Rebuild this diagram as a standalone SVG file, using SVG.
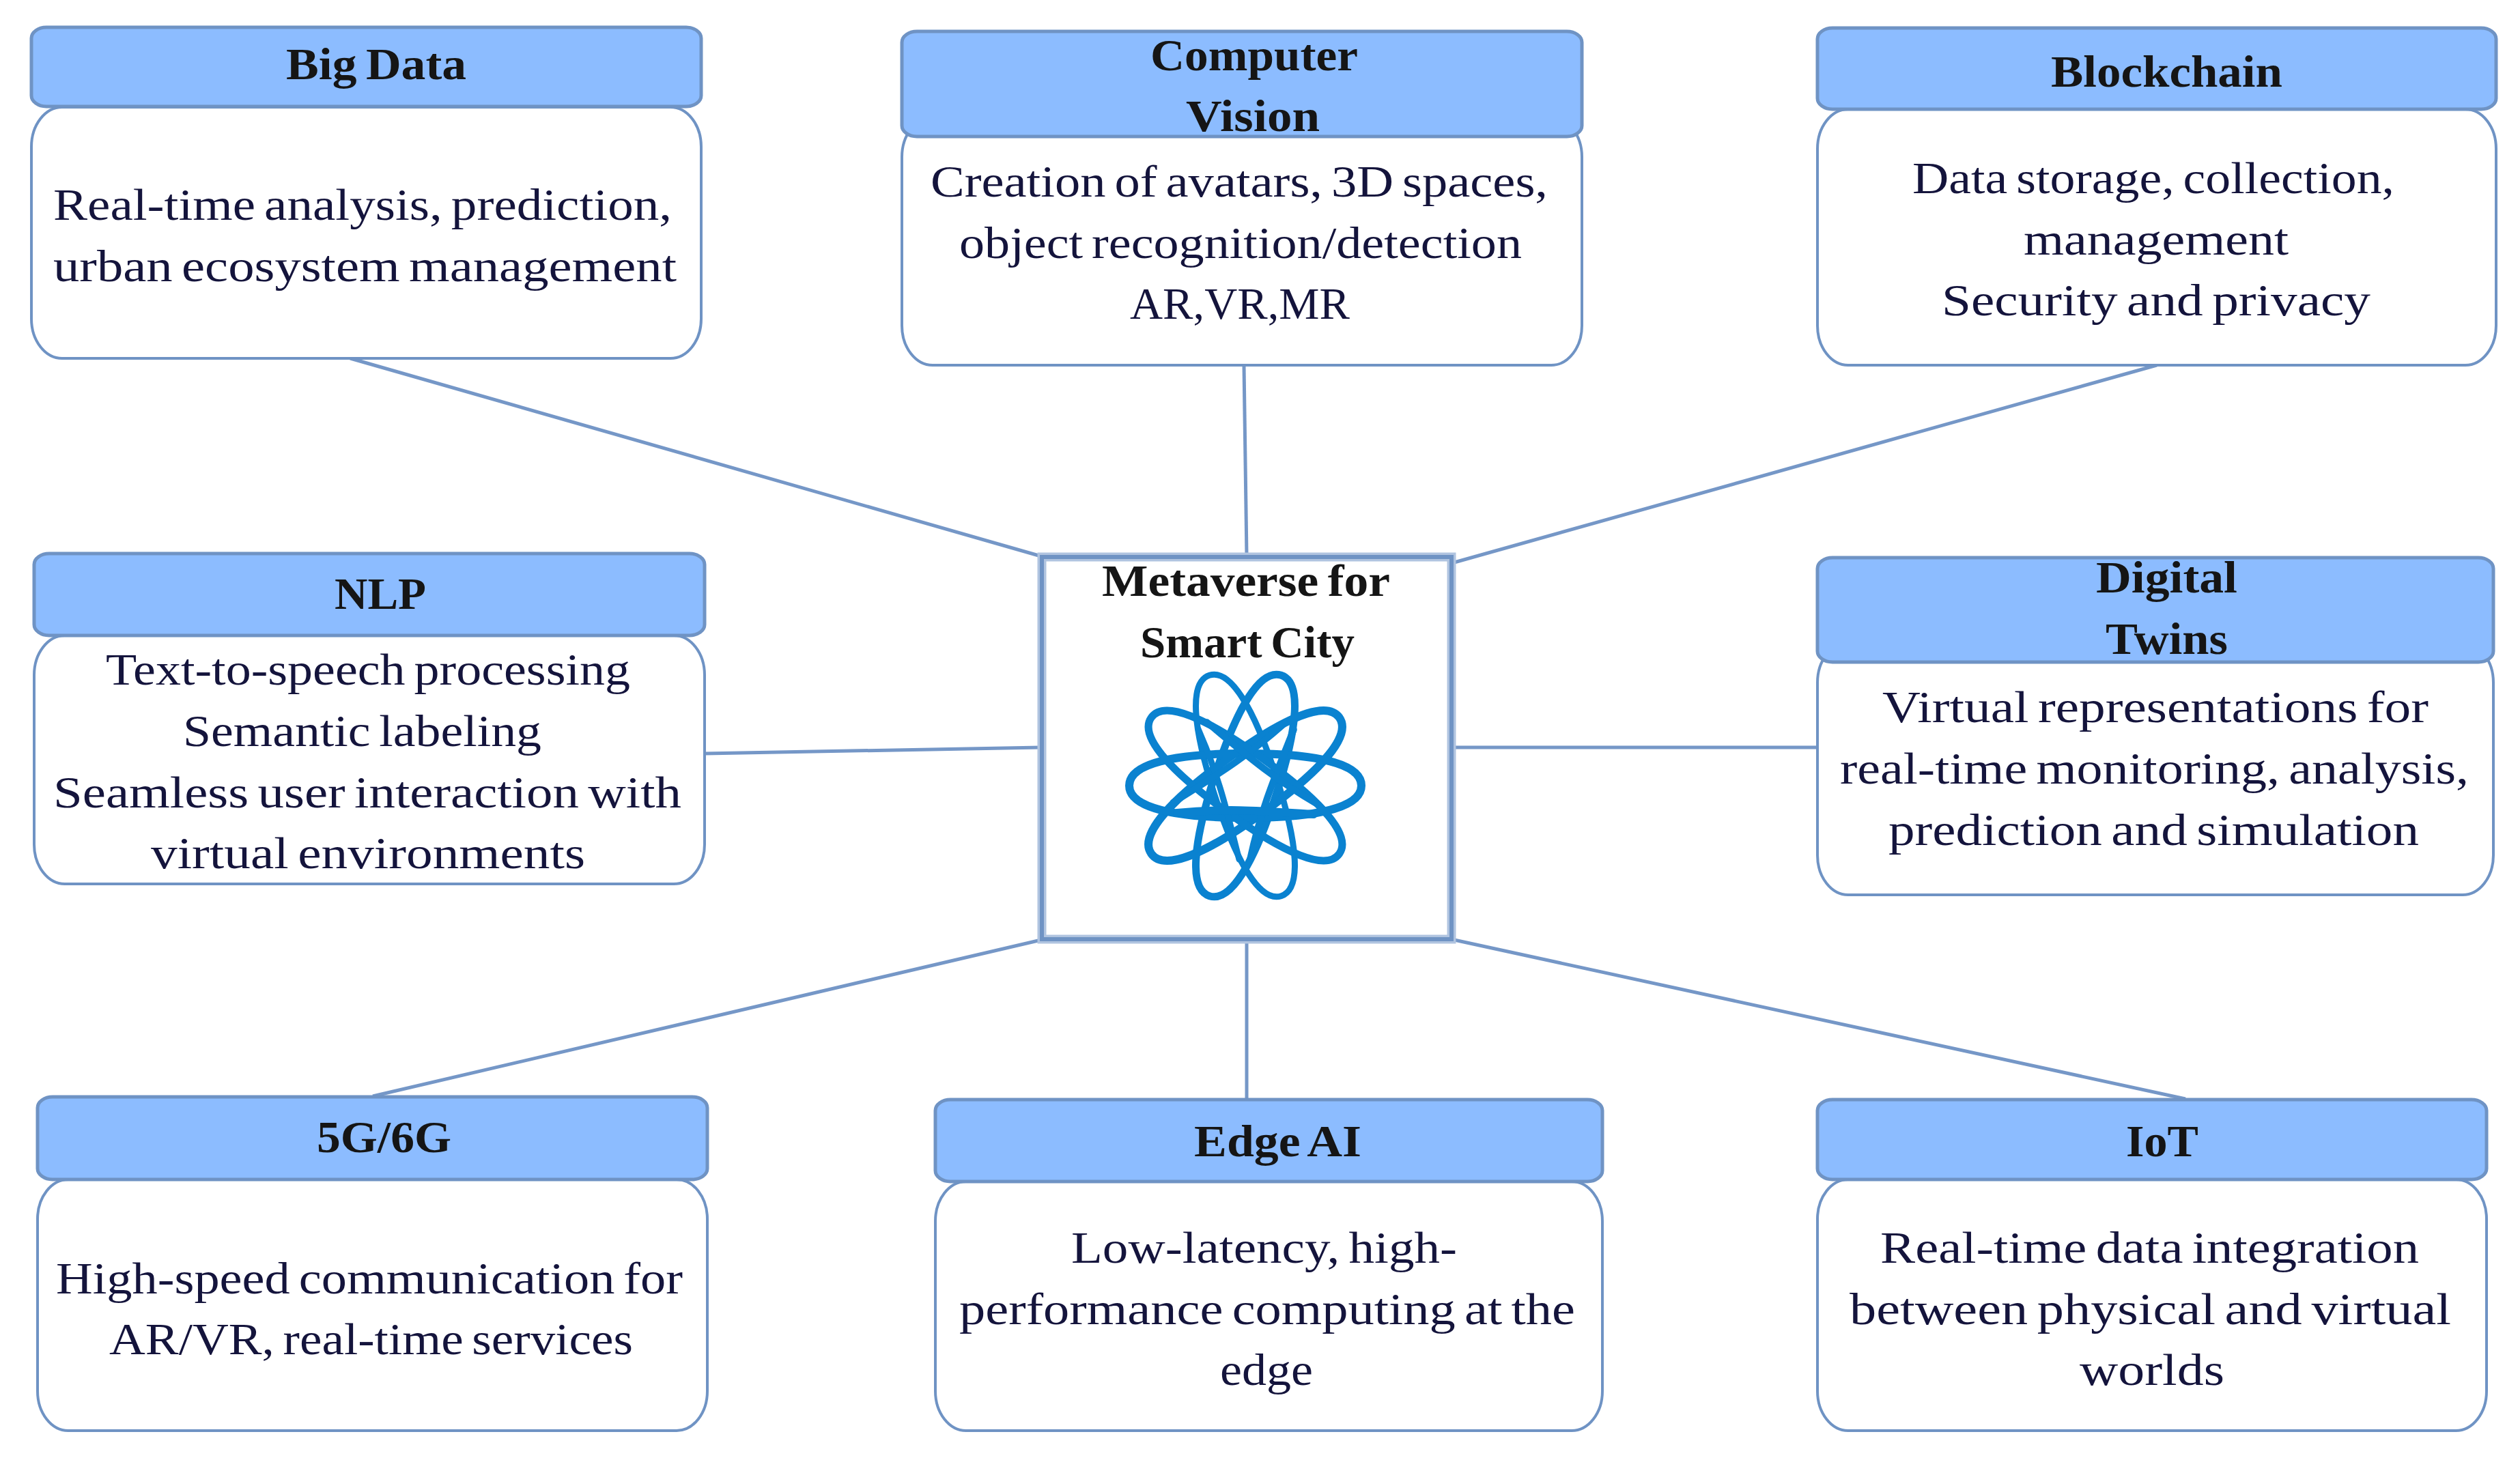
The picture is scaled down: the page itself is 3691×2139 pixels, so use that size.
<svg xmlns="http://www.w3.org/2000/svg" width="3691" height="2139" viewBox="0 0 3691 2139">
<style>
text{font-family:"Liberation Serif","DejaVu Serif",serif;font-size:66px;fill:#14143c;word-spacing:-5px}
.t{font-weight:700;fill:#151515;font-size:65px;word-spacing:-4px}
.b{fill:#fff;stroke:#6f93c4;stroke-width:4}
.h{fill:#8cbcff;stroke:#6f93c4;stroke-width:5}
.c{fill:none;stroke:#7597c7;stroke-width:5}
.o{fill:none;stroke:#0a82d0;stroke-linecap:round}
</style>
<defs>
<path id="lobe" d="M0,-170 C32,-170 47,-105 47,0 C47,105 32,170 0,170 C-32,170 -47,105 -47,0 C-47,-105 -32,-170 0,-170Z"/>
<path id="side" d="M42,-100 C38,-35 32,20 40,100"/>
</defs>
<rect width="3691" height="2139" fill="#fff"/>
<g id="connectors" class="c">
<line x1="513" y1="525" x2="1525" y2="815"/>
<line x1="1822" y1="535" x2="1826" y2="815"/>
<line x1="3159" y1="535" x2="2130" y2="824"/>
<line x1="1032" y1="1104" x2="1525" y2="1095"/>
<line x1="2125" y1="1095" x2="2662" y2="1095"/>
<line x1="546" y1="1606" x2="1525" y2="1377"/>
<line x1="1826" y1="1377" x2="1826" y2="1610"/>
<line x1="3201" y1="1610" x2="2130" y2="1377"/>
</g>
<g id="big-data">
<rect class="b" x="46" y="157" width="981" height="368" rx="45" ry="58"/>
<rect class="h" x="46" y="40" width="981" height="116" rx="22" ry="16"/>
<text class="t" x="419" y="116" textLength="264" lengthAdjust="spacingAndGlyphs">Big Data</text>
<text x="78" y="322" textLength="906" lengthAdjust="spacingAndGlyphs">Real-time analysis, prediction,</text>
<text x="78" y="412" textLength="913" lengthAdjust="spacingAndGlyphs">urban ecosystem management</text>
</g>
<g id="computer-vision">
<rect class="b" x="1321" y="172" width="996" height="363" rx="45" ry="58"/>
<rect class="h" x="1321" y="46" width="996" height="154" rx="22" ry="16"/>
<text class="t" x="1685" y="103" textLength="304" lengthAdjust="spacingAndGlyphs">Computer</text>
<text class="t" x="1737" y="192" textLength="196" lengthAdjust="spacingAndGlyphs">Vision</text>
<text x="1363" y="288" textLength="904" lengthAdjust="spacingAndGlyphs">Creation of avatars, 3D spaces,</text>
<text x="1405" y="378" textLength="824" lengthAdjust="spacingAndGlyphs">object recognition/detection</text>
<text x="1655" y="467" textLength="322" lengthAdjust="spacingAndGlyphs">AR,VR,MR</text>
</g>
<g id="blockchain">
<rect class="b" x="2662" y="160" width="994" height="375" rx="45" ry="58"/>
<rect class="h" x="2662" y="41" width="994" height="119" rx="22" ry="16"/>
<text class="t" x="3004" y="127" textLength="339" lengthAdjust="spacingAndGlyphs">Blockchain</text>
<text x="2801" y="283" textLength="706" lengthAdjust="spacingAndGlyphs">Data storage, collection,</text>
<text x="2964" y="373" textLength="388" lengthAdjust="spacingAndGlyphs">management</text>
<text x="2844" y="462" textLength="628" lengthAdjust="spacingAndGlyphs">Security and privacy</text>
</g>
<g id="nlp">
<rect class="b" x="50" y="931" width="982" height="364" rx="45" ry="58"/>
<rect class="h" x="50" y="811" width="982" height="120" rx="22" ry="16"/>
<text class="t" x="490" y="892" textLength="134" lengthAdjust="spacingAndGlyphs">NLP</text>
<text x="155" y="1003" textLength="768" lengthAdjust="spacingAndGlyphs">Text-to-speech processing</text>
<text x="268" y="1093" textLength="525" lengthAdjust="spacingAndGlyphs">Semantic labeling</text>
<text x="78" y="1183" textLength="920" lengthAdjust="spacingAndGlyphs">Seamless user interaction with</text>
<text x="221" y="1272" textLength="636" lengthAdjust="spacingAndGlyphs">virtual environments</text>
</g>
<g id="center">
<rect x="1526" y="816" width="600" height="560" fill="#fff" stroke="#b0c4e0" stroke-width="13"/>
<rect x="1526" y="816" width="600" height="560" fill="none" stroke="#6f93c4" stroke-width="6"/>
<text class="t" x="1614" y="873" textLength="422" lengthAdjust="spacingAndGlyphs">Metaverse for</text>
<text class="t" x="1670" y="963" textLength="314" lengthAdjust="spacingAndGlyphs">Smart City</text>
<g id="atom" class="o" transform="translate(1824 1151)">
<use href="#lobe" stroke-width="9" transform="rotate(-18)"/>
<use href="#lobe" stroke-width="11" transform="rotate(18)"/>
<use href="#lobe" stroke-width="12" transform="rotate(54)"/>
<use href="#lobe" stroke-width="12" transform="rotate(90)"/>
<use href="#lobe" stroke-width="11" transform="rotate(126)"/>
<use href="#side" stroke-width="9" transform="rotate(162)"/>
<use href="#side" stroke-width="10" transform="rotate(18)"/>
<use href="#side" stroke-width="10" transform="rotate(234)"/>
<use href="#side" stroke-width="12" transform="rotate(90)"/>
<use href="#side" stroke-width="10" transform="rotate(306)"/>
</g>
</g>
<g id="digital-twins">
<rect class="b" x="2662" y="942" width="990" height="369" rx="45" ry="58"/>
<rect class="h" x="2662" y="817" width="990" height="153" rx="22" ry="16"/>
<text class="t" x="3070" y="868" textLength="207" lengthAdjust="spacingAndGlyphs">Digital</text>
<text class="t" x="3084" y="958" textLength="179" lengthAdjust="spacingAndGlyphs">Twins</text>
<text x="2757" y="1058" textLength="800" lengthAdjust="spacingAndGlyphs">Virtual representations for</text>
<text x="2695" y="1148" textLength="921" lengthAdjust="spacingAndGlyphs">real-time monitoring, analysis,</text>
<text x="2766" y="1238" textLength="777" lengthAdjust="spacingAndGlyphs">prediction and simulation</text>
</g>
<g id="g5-6">
<rect class="b" x="55" y="1728" width="981" height="368" rx="45" ry="58"/>
<rect class="h" x="55" y="1607" width="981" height="121" rx="22" ry="16"/>
<text class="t" x="464" y="1688" textLength="197" lengthAdjust="spacingAndGlyphs">5G/6G</text>
<text x="82" y="1895" textLength="918" lengthAdjust="spacingAndGlyphs">High-speed communication for</text>
<text x="160" y="1984" textLength="767" lengthAdjust="spacingAndGlyphs">AR/VR, real-time services</text>
</g>
<g id="edge-ai">
<rect class="b" x="1370" y="1731" width="977" height="365" rx="45" ry="58"/>
<rect class="h" x="1370" y="1611" width="977" height="120" rx="22" ry="16"/>
<text class="t" x="1749" y="1694" textLength="245" lengthAdjust="spacingAndGlyphs">Edge AI</text>
<text x="1569" y="1850" textLength="565" lengthAdjust="spacingAndGlyphs">Low-latency, high-</text>
<text x="1405" y="1940" textLength="902" lengthAdjust="spacingAndGlyphs">performance computing at the</text>
<text x="1787" y="2029" textLength="136" lengthAdjust="spacingAndGlyphs">edge</text>
</g>
<g id="iot">
<rect class="b" x="2662" y="1728" width="980" height="368" rx="45" ry="58"/>
<rect class="h" x="2662" y="1611" width="980" height="117" rx="22" ry="16"/>
<text class="t" x="3114" y="1694" textLength="106" lengthAdjust="spacingAndGlyphs">IoT</text>
<text x="2754" y="1850" textLength="789" lengthAdjust="spacingAndGlyphs">Real-time data integration</text>
<text x="2709" y="1940" textLength="881" lengthAdjust="spacingAndGlyphs">between physical and virtual</text>
<text x="3046" y="2029" textLength="212" lengthAdjust="spacingAndGlyphs">worlds</text>
</g>
</svg>
